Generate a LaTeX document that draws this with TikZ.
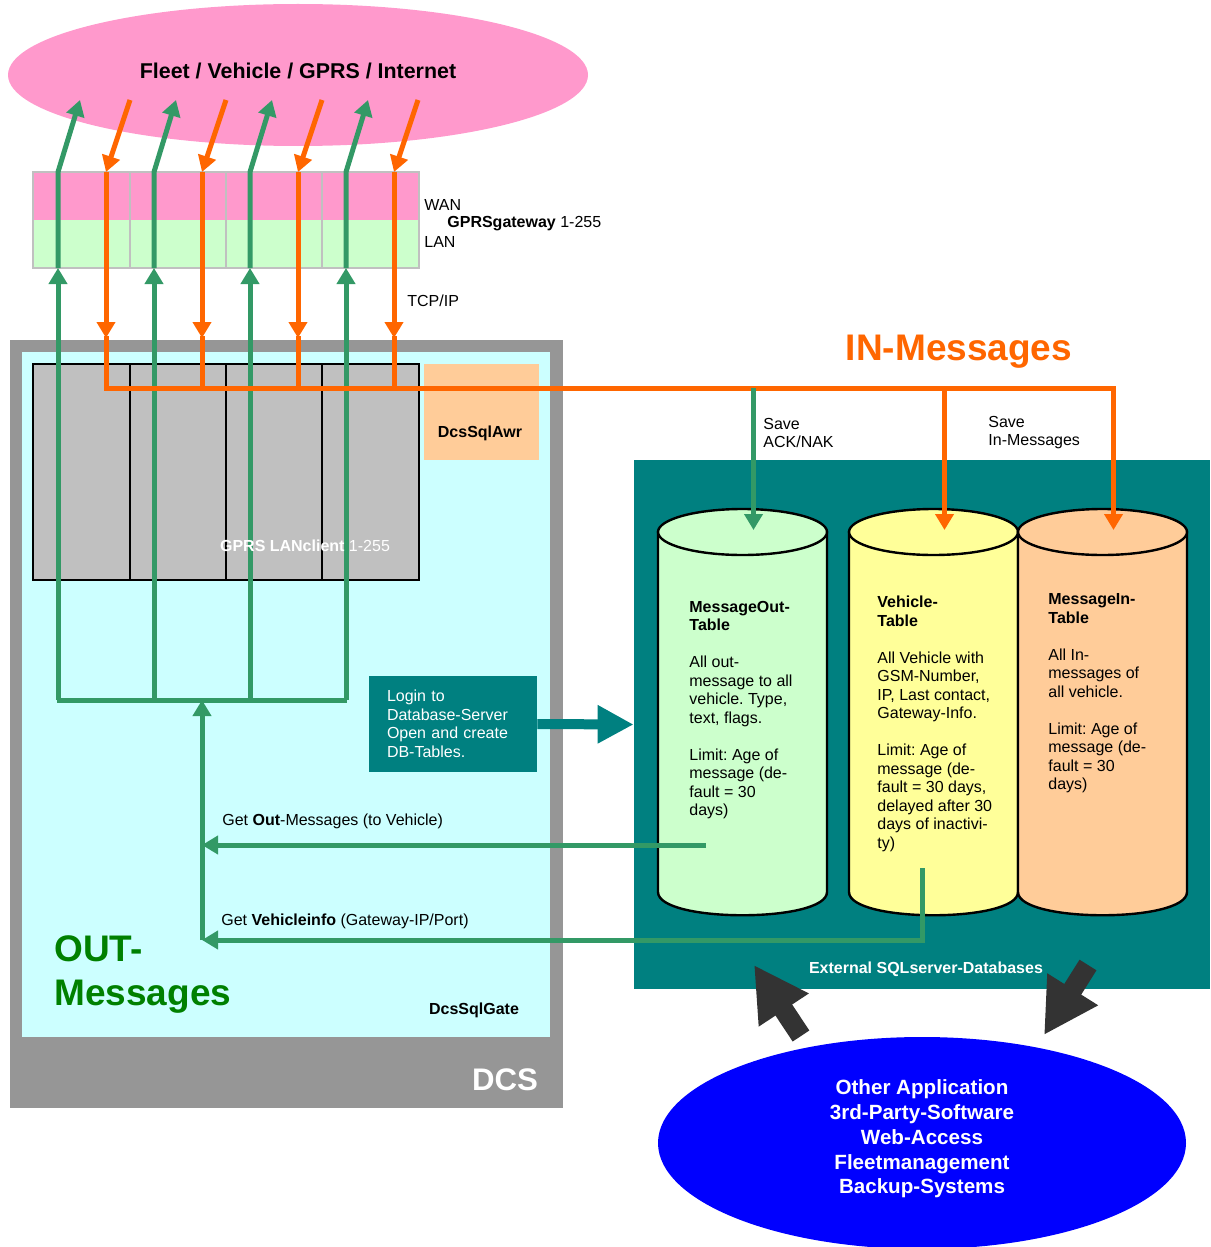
\documentclass[tikz,border=0pt]{standalone}
\usepackage{fontspec}
\setmainfont{Liberation Sans}
\usepackage{tikz}
\usetikzlibrary{arrows.meta}
\usetikzlibrary{positioning}
\usetikzlibrary{shapes.geometric}
\frenchspacing

\definecolor{fleetpink}{HTML}{FF99CC}
\definecolor{langreen}{HTML}{CCFFCC}
\definecolor{gwgray}{HTML}{C0C0C0}
\definecolor{outgreen}{HTML}{339966}
\definecolor{inorange}{HTML}{FF6600}
\definecolor{dcsgray}{HTML}{969696}
\definecolor{dcscyan}{HTML}{CCFFFF}
\definecolor{peach}{HTML}{FFCC99}
\definecolor{dbteal}{HTML}{008080}
\definecolor{vehyellow}{HTML}{FFFF99}
\definecolor{blockgray}{HTML}{333333}
\definecolor{appblue}{HTML}{0000FF}
\definecolor{msggreen}{HTML}{008000}

\begin{document}
\begin{tikzpicture}[x=0.5pt,y=-0.5pt,>={Triangle[width=9pt,length=8pt]},
  every node/.style={inner sep=0pt,font=\fontsize{8}{9.25}\selectfont},
  outpath/.style={draw=outgreen,line width=2.5pt},
  inpath/.style={draw=inorange,line width=2.5pt},
  blockarrow/.style={draw=blockgray,line width=10pt,-{Triangle[width=28pt,length=27pt]}},
  dbcyl/.style={draw=black,line width=1.2pt},
  dbtext/.style={anchor=north west,align=left},
  boldlabel/.style={font=\fontsize{8}{9.25}\selectfont\bfseries}]

  \useasboundingbox (0,0) rectangle (1210,1247);

  % fleet cloud
  \node[ellipse,fill=fleetpink,minimum width=290pt,minimum height=71pt] (fleet) at (298,75) {};
  \node[font=\fontsize{10.7}{12}\selectfont\bfseries] (fleettxt) at (298,71) {Fleet / Vehicle / GPRS / Internet};

  % gateway
  \fill[fleetpink] (33,172) rectangle (419,220);
  \fill[langreen] (33,220) rectangle (419,268);
  \draw[gwgray,line width=1.2pt] (33,172) rectangle (419,268);
  \foreach \x in {130,226,322} \draw[gwgray,line width=1.2pt] (\x,172) -- (\x,268);

  % DCS
  \fill[dcsgray] (10,340) rectangle (563,1108);
  \fill[dcscyan] (22,352) rectangle (550,1037);
  \filldraw[fill=gwgray,draw=black,line width=1pt] (33,364) rectangle (419,580);
  \foreach \x in {130,226,322} \draw[black,line width=1pt] (\x,364) -- (\x,580);
  \fill[peach] (424,364) rectangle (539,460);

  % databases
  \node[fill=dbteal,minimum width=288pt,minimum height=264.5pt] (ext) at (922,724.5) {};
  \foreach \cx/\col/\n in {742.5/langreen/out,933.5/vehyellow/veh,1102.5/peach/in} {
    \filldraw[dbcyl,fill=\col] (\cx-84.5,532) -- (\cx-84.5,892)
      .. controls (\cx-84.5,923) and (\cx+84.5,923) .. (\cx+84.5,892) -- (\cx+84.5,532) -- cycle;
    \filldraw[dbcyl,fill=\col] (\cx,532) ellipse [x radius=84.5,y radius=23];
    \coordinate (top\n) at (\cx+11,530);
  }
  \node[dbtext] (outtxt) at (689,600.5) {\textbf{MessageOut-}\\\textbf{Table}\\[9.25pt]
    All out-\\message to all\\vehicle. Type,\\text, flags.\\[9.25pt]
    Limit: Age of\\message (de-\\fault = 30\\days)};
  \node[dbtext] (vehtxt) at (877,595.5) {\textbf{Vehicle-}\\\textbf{Table}\\[9.25pt]
    All Vehicle with\\GSM-Number,\\IP, Last contact,\\Gateway-Info.\\[9.25pt]
    Limit: Age of\\message (de-\\fault = 30 days,\\delayed after 30\\days of inactivi-\\ty)};
  \node[dbtext] (intxt) at (1048,593.5) {\textbf{MessageIn-}\\\textbf{Table}\\[9.25pt]
    All In-\\messages of\\all vehicle.\\[9.25pt]
    Limit: Age of\\message (de-\\fault = 30\\days)};
  \node[boldlabel,text=white] (extlbl) at (926,969) {External SQLserver-Databases};

  % login
  \node[fill=dbteal,text=white,minimum width=84pt,minimum height=48pt,text width=66pt,
    inner xsep=9pt,align=left] (login) at (453,724) {Login to\\Database-Server\\Open and create\\DB-Tables.};
  \draw[dbteal,line width=5pt,-{Triangle[width=18pt,length=18pt]}] (login.east) -- (ext.west);

  % in and out lines
  \coordinate (bus) at (0,388);
  \coordinate (hub) at (202,700);
  \foreach \i [evaluate=\i as \gx using 58+96*\i, evaluate=\i as \ox using 106+96*\i] in {0,...,3} {
    \coordinate (gwlan\i) at (\gx,268);
    \coordinate (gwwan\i) at (\ox,172);
    \draw[outpath,->] (\gx,700) -- (gwlan\i);
    \draw[outpath,->] (gwlan\i) -- (\gx,172) -- (\gx+22,100);
    \draw[inpath,->] (\ox+24,100) -- (gwwan\i);
    \draw[inpath,->] (gwwan\i) -- (\ox,338);
    \draw[inpath] (\ox,336) -- (\ox,390.5);
  }
  \draw[inpath,->] (104.75,388) -| (topin);
  \draw[inpath,->] (topveh |- bus) -- (topveh);
  \draw[outpath,->] (topout |- bus) -- (topout);
  \draw[outpath] (56.75,700) -- (347.25,700);
  \draw[outpath,->] (202,940) -- (hub);
  \coordinate (getout) at (706,845);
  \coordinate (getveh) at (922,868);
  \draw[outpath,->] (getout) -- (202,845);
  \draw[outpath,->] (getveh) -- (922,940) -- (202,940);

  % labels
  \node[anchor=west] (wan) at (424,205) {WAN};
  \node[anchor=west] (gwlbl) at (447,224) {\textbf{GPRSgateway} 1-255};
  \node[anchor=west] (lan) at (424,242) {LAN};
  \node[anchor=west] (tcp) at (407,301) {TCP/IP};
  \node[text=inorange,font=\fontsize{18.5}{22}\selectfont\bfseries] (inmsg) at (959,352) {IN-Messages};
  \node[dbtext] (saveack) at (763,417.5) {Save\\ACK/NAK};
  \node[dbtext] (savein) at (988,415.5) {Save\\In-Messages};
  \node[text=white] (client) at (305,546) {\textbf{GPRS LANclient} 1-255};
  \node[boldlabel] (awr) at (480,433) {DcsSqlAwr};
  \node[anchor=west] (getoutlbl) at (222,821) {Get \textbf{Out}-Messages (to Vehicle)};
  \node[anchor=west] (getvehlbl) at (221,921) {Get \textbf{Vehicleinfo} (Gateway-IP/Port)};
  \node[dbtext,text=msggreen,font=\fontsize{18.5}{22}\selectfont\bfseries] (outmsg) at (54,935) {OUT-\\Messages};
  \node[boldlabel] (gate) at (474,1010) {DcsSqlGate};
  \node[text=white,font=\fontsize{15.6}{18}\selectfont\bfseries] (dcs) at (505,1080) {DCS};

  % other applications
  \node[ellipse,fill=appblue,minimum width=264pt,minimum height=106pt] (apps) at (922,1143) {};
  \node[text=white,align=center,font=\fontsize{10.3}{12.35}\selectfont\bfseries] (appstxt) at (922,1139)
    {Other Application\\3rd-Party-Software\\Web-Access\\Fleetmanagement\\Backup-Systems};
  \draw[blockarrow] (801,1036) -- (754,965);
  \draw[blockarrow] (1088,965) -- (1044,1035);
\end{tikzpicture}
\end{document}
